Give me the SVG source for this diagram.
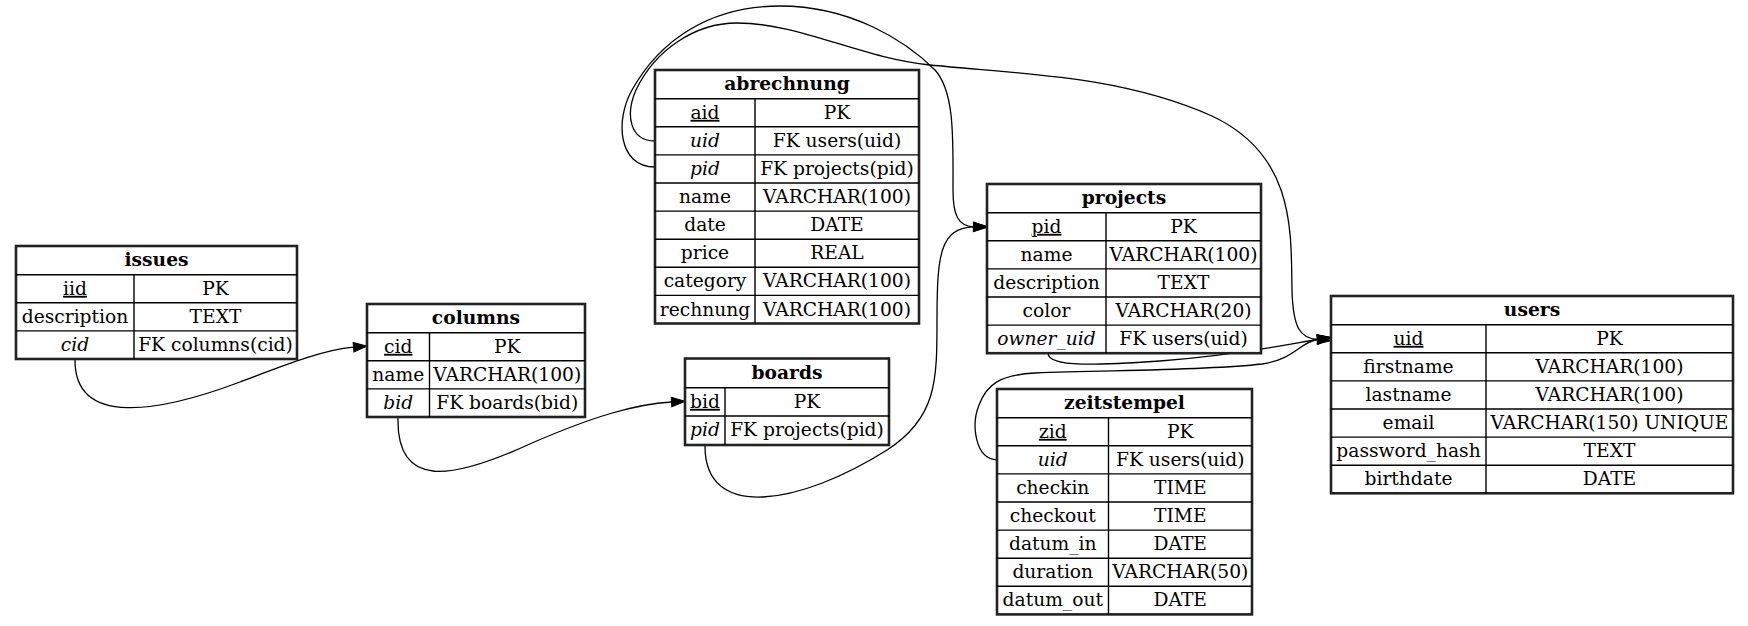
<svg xmlns="http://www.w3.org/2000/svg" width="1748" height="626" viewBox="0 0 1748 626">
<style>
.tb{fill:#fff;stroke:#222;stroke-width:2.6}
.ln{stroke:#000;stroke-width:1.4;fill:none}
text{font-family:"DejaVu Serif","Liberation Serif",serif;font-size:18.67px;fill:#000;text-anchor:middle}
.h{font-weight:bold}
.u{text-decoration:underline}
.i{font-style:italic}
.e{fill:none;stroke:#000;stroke-width:1.3}
</style>
<defs>
<marker id="ah" markerUnits="userSpaceOnUse" markerWidth="20" markerHeight="14" refX="0" refY="7" orient="auto" overflow="visible">
<path d="M0,2.3 L13.5,7 L0,11.7 z" fill="#000" stroke="#000" stroke-width="1"/>
</marker>
</defs>
<rect width="1748" height="626" fill="#fff"/>
<g id="edges">
<path class="e" marker-end="url(#ah)" d="M75,359 C74,428 160,412 240,382 C290,363 325,349.5 353.5,347.2"/>
<path class="e" marker-end="url(#ah)" d="M398,417 C396,490 452,480 532,443 C592,417 635,404 671.5,402"/>
<path class="e" marker-end="url(#ah)" d="M705,445 C704,522 800,505 887,450 C937,418 937,380 937,320 C937,255 940,228 973.5,226.8"/>
<path class="e" marker-end="url(#ah)" d="M655,167 C618,167 615,120 632,90 C660,40 710,6 780,6 C850,6 905,40 935,70 C955,92 953,140 953,190 C953,215 958,226 973.5,226.8"/>
<path class="e" marker-end="url(#ah)" d="M655,141 C630,141 625,115 636,90 C655,50 695,23 737,23 C800,23 860,58 930,65 C1020,74 1120,75 1212,116 C1295,155 1291,230 1292,290 C1293,328 1300,338 1317.5,339.5"/>
<path class="e" marker-end="url(#ah)" d="M1048,353 C1048,368 1100,365 1160,361 C1240,355 1290,344 1317.5,339.5"/>
<path class="e" marker-end="url(#ah)" d="M997,459.8 C975,459 971,425 979,405 C987,384 1000,375 1035,373 C1110,370 1200,371 1262,364 C1295,359 1300,342 1317.5,339.5"/>
</g>
<g id="issues">
<rect class="tb" x="16" y="246" width="281" height="113"/>
<path class="ln" d="M16,274.7H297M16,302.8H297M16,330.9H297M134,274.7V359"/>
<text class="h" x="156.5" y="266.3">issues</text>
<text class="u" x="75" y="294.8">iid</text><text x="215.5" y="294.8">PK</text>
<text x="75" y="322.9">description</text><text x="215.5" y="322.9">TEXT</text>
<text class="i" x="75" y="351">cid</text><text x="215.5" y="351">FK columns(cid)</text>
</g>
<g id="columns">
<rect class="tb" x="367" y="304" width="218" height="113"/>
<path class="ln" d="M367,332.7H585M367,360.8H585M367,388.9H585M429.5,332.7V417"/>
<text class="h" x="476" y="324.3">columns</text>
<text class="u" x="398.25" y="352.8">cid</text><text x="507.25" y="352.8">PK</text>
<text x="398.25" y="380.9">name</text><text x="507.25" y="380.9">VARCHAR(100)</text>
<text class="i" x="398.25" y="409">bid</text><text x="507.25" y="409">FK boards(bid)</text>
</g>
<g id="abrechnung">
<rect class="tb" x="655" y="70" width="264" height="253.5"/>
<path class="ln" d="M655,98.7H919M655,126.8H919M655,154.9H919M655,183H919M655,211.1H919M655,239.2H919M655,267.3H919M655,295.4H919M755,98.7V323.5"/>
<text class="h" x="787" y="90.3">abrechnung</text>
<text class="u" x="705" y="118.8">aid</text><text x="837" y="118.8">PK</text>
<text class="i" x="705" y="146.9">uid</text><text x="837" y="146.9">FK users(uid)</text>
<text class="i" x="705" y="175">pid</text><text x="837" y="175">FK projects(pid)</text>
<text x="705" y="203.1">name</text><text x="837" y="203.1">VARCHAR(100)</text>
<text x="705" y="231.2">date</text><text x="837" y="231.2">DATE</text>
<text x="705" y="259.3">price</text><text x="837" y="259.3">REAL</text>
<text x="705" y="287.4">category</text><text x="837" y="287.4">VARCHAR(100)</text>
<text x="705" y="315.5">rechnung</text><text x="837" y="315.5">VARCHAR(100)</text>
</g>
<g id="boards">
<rect class="tb" x="685" y="358.5" width="204" height="86.5"/>
<path class="ln" d="M685,387.7H889M685,416H889M725,387.7V445"/>
<text class="h" x="787" y="378.8">boards</text>
<text class="u" x="705" y="407.8">bid</text><text x="807" y="407.8">PK</text>
<text class="i" x="705" y="436.1">pid</text><text x="807" y="436.1">FK projects(pid)</text>
</g>
<g id="projects">
<rect class="tb" x="987" y="184" width="274" height="169.2"/>
<path class="ln" d="M987,212.7H1261M987,240.8H1261M987,268.9H1261M987,297H1261M987,325.1H1261M1106,212.7V353.2"/>
<text class="h" x="1124" y="204.3">projects</text>
<text class="u" x="1046.5" y="232.8">pid</text><text x="1183.5" y="232.8">PK</text>
<text x="1046.5" y="260.9">name</text><text x="1183.5" y="260.9">VARCHAR(100)</text>
<text x="1046.5" y="289">description</text><text x="1183.5" y="289">TEXT</text>
<text x="1046.5" y="317.1">color</text><text x="1183.5" y="317.1">VARCHAR(20)</text>
<text class="i" x="1046.5" y="345.2">owner_uid</text><text x="1183.5" y="345.2">FK users(uid)</text>
</g>
<g id="zeitstempel">
<rect class="tb" x="997" y="389" width="255" height="225.4"/>
<path class="ln" d="M997,417.7H1252M997,445.8H1252M997,473.9H1252M997,502H1252M997,530.1H1252M997,558.2H1252M997,586.3H1252M1108.5,417.7V614.4"/>
<text class="h" x="1124.5" y="409.3">zeitstempel</text>
<text class="u" x="1052.75" y="437.8">zid</text><text x="1180.25" y="437.8">PK</text>
<text class="i" x="1052.75" y="465.9">uid</text><text x="1180.25" y="465.9">FK users(uid)</text>
<text x="1052.75" y="494">checkin</text><text x="1180.25" y="494">TIME</text>
<text x="1052.75" y="522.1">checkout</text><text x="1180.25" y="522.1">TIME</text>
<text x="1052.75" y="550.2">datum_in</text><text x="1180.25" y="550.2">DATE</text>
<text x="1052.75" y="578.3">duration</text><text x="1180.25" y="578.3">VARCHAR(50)</text>
<text x="1052.75" y="606.4">datum_out</text><text x="1180.25" y="606.4">DATE</text>
</g>
<g id="users">
<rect class="tb" x="1331" y="296" width="402" height="197.3"/>
<path class="ln" d="M1331,324.7H1733M1331,352.8H1733M1331,380.9H1733M1331,409H1733M1331,437.1H1733M1331,465.2H1733M1486,324.7V493.3"/>
<text class="h" x="1532" y="316.3">users</text>
<text class="u" x="1408.5" y="344.8">uid</text><text x="1609.5" y="344.8">PK</text>
<text x="1408.5" y="372.9">firstname</text><text x="1609.5" y="372.9">VARCHAR(100)</text>
<text x="1408.5" y="401">lastname</text><text x="1609.5" y="401">VARCHAR(100)</text>
<text x="1408.5" y="429.1">email</text><text x="1609.5" y="429.1">VARCHAR(150) UNIQUE</text>
<text x="1408.5" y="457.2">password_hash</text><text x="1609.5" y="457.2">TEXT</text>
<text x="1408.5" y="485.3">birthdate</text><text x="1609.5" y="485.3">DATE</text>
</g>
</svg>
